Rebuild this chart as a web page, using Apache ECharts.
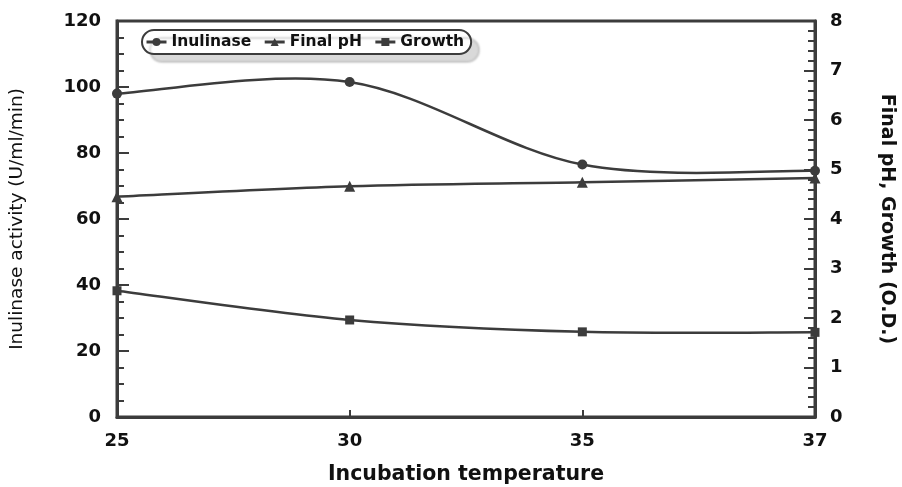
<!DOCTYPE html>
<html>
<head>
<meta charset="utf-8">
<script src="https://cdn.jsdelivr.net/npm/echarts@6/dist/echarts.min.js"></script>
<style>
  html, body { margin: 0; padding: 0; background: #fff; }
  #chart { width: 902px; height: 487px; }
</style>
</head>
<body>
<div id="chart"></div>
<script>
// Incubation temperatures (°C) along the x axis
const temperatures = ['25', '30', '35', '37'];
// Inulinase activity, U/ml/min (left axis)
const inulinase = [98, 101.5, 76.5, 74.6];
// Final pH of the medium (right axis)
const finalPH = [4.45, 4.66, 4.74, 4.83];
// Growth, O.D. (right axis)
const growth = [2.55, 1.96, 1.72, 1.71];

const ink = '#3c3c3c';
const font = 'DejaVu Sans';

// Smoothed curve through the measured points (cardinal spline, tension 1/6),
// projected with the chart's own axes via api.coord.
function splineRenderer(values) {
  return function (params, api) {
    if (params.dataIndex !== 0) return null;
    const pts = values.map((v, i) => api.coord([i, v]));
    const n = pts.length;
    let d = 'M' + pts[0][0] + ' ' + pts[0][1];
    for (let i = 0; i < n - 1; i++) {
      const p0 = pts[Math.max(i - 1, 0)];
      const p1 = pts[i];
      const p2 = pts[i + 1];
      const p3 = pts[Math.min(i + 2, n - 1)];
      const c1x = p1[0] + (p2[0] - p0[0]) / 6, c1y = p1[1] + (p2[1] - p0[1]) / 6;
      const c2x = p2[0] - (p3[0] - p1[0]) / 6, c2y = p2[1] - (p3[1] - p1[1]) / 6;
      d += ' C' + c1x + ' ' + c1y + ' ' + c2x + ' ' + c2y + ' ' + p2[0] + ' ' + p2[1];
    }
    return {
      type: 'path',
      shape: { pathData: d },
      style: { fill: null, stroke: ink, lineWidth: 2.5 }
    };
  };
}

function curveSeries(name, values, axis) {
  return {
    name: name, type: 'custom', yAxisIndex: axis, silent: true, z: 1,
    data: values.map((v, i) => [i, v]),
    renderItem: splineRenderer(values)
  };
}

function markerSeries(name, values, axis, symbol, size) {
  return {
    name: name, type: 'line', yAxisIndex: axis, data: values, z: 3,
    symbol: symbol, symbolSize: size,
    itemStyle: { color: ink },
    lineStyle: { color: ink, width: 0, opacity: 0 }
  };
}

const chart = echarts.init(document.getElementById('chart'), null, { renderer: 'canvas' });

const yCommon = {
  type: 'value',
  splitLine: { show: false },
  axisLine: { show: true, lineStyle: { color: ink, width: 3 } },
  axisLabel: { color: '#111', fontFamily: font, fontWeight: 'bold', fontSize: 18 },
  minorSplitLine: { show: false }
};

chart.setOption({
  animation: false,
  backgroundColor: '#fff',
  textStyle: { fontFamily: font },
  grid: {
    left: 117, right: 87, top: 21, bottom: 70,
    outerBoundsMode: 'none',
    containLabel: false,
    show: true, borderColor: ink, borderWidth: 3, backgroundColor: 'transparent'
  },
  legend: {
    left: 142, top: 30,
    padding: [4, 7, 4, 3],
    itemGap: 12,
    itemWidth: 20, itemHeight: 10,
    backgroundColor: '#fff',
    borderColor: ink, borderWidth: 2, borderRadius: 12,
    shadowColor: 'rgba(0,0,0,0.15)', shadowBlur: 2, shadowOffsetX: 8, shadowOffsetY: 8,
    lineStyle: { color: ink, width: 3, opacity: 1 },
    textStyle: { color: '#111', fontFamily: font, fontWeight: 'bold', fontSize: 15.5 },
    data: ['Inulinase', 'Final pH', 'Growth']
  },
  xAxis: {
    type: 'category',
    data: temperatures,
    boundaryGap: false,
    name: 'Incubation temperature',
    nameLocation: 'middle',
    nameGap: 47,
    nameTextStyle: { color: '#111', fontFamily: font, fontWeight: 'bold', fontSize: 20.5 },
    axisLine: { show: true, lineStyle: { color: ink, width: 3 } },
    axisTick: { show: true, inside: true, length: 7, lineStyle: { color: ink, width: 2 } },
    axisLabel: { color: '#111', fontFamily: font, fontWeight: 'bold', fontSize: 18, margin: 15 },
    splitLine: { show: false }
  },
  yAxis: [
    Object.assign({}, yCommon, {
      position: 'left',
      min: 0, max: 120, interval: 20,
      name: 'Inulinase activity (U/ml/min)',
      nameLocation: 'middle',
      nameRotate: 90,
      nameGap: 90,
      nameTextStyle: { color: '#111', fontFamily: font, fontWeight: 'normal', fontSize: 18.5 },
      axisTick: { show: true, inside: true, length: 12, lineStyle: { color: ink, width: 2 } },
      minorTick: { show: true, splitNumber: 4, length: 7, lineStyle: { color: ink, width: 2 } },
      axisLabel: Object.assign({}, yCommon.axisLabel, { margin: 16 })
    }),
    Object.assign({}, yCommon, {
      position: 'right',
      min: 0, max: 8, interval: 1,
      name: 'Final pH, Growth (O.D.)',
      nameLocation: 'middle',
      nameRotate: -90,
      nameGap: 62,
      nameTextStyle: { color: '#111', fontFamily: font, fontWeight: 'bold', fontSize: 19 },
      axisTick: { show: true, inside: true, length: 11, lineStyle: { color: ink, width: 2 } },
      minorTick: { show: true, splitNumber: 5, length: 7, lineStyle: { color: ink, width: 2 } },
      axisLabel: Object.assign({}, yCommon.axisLabel, { margin: 15 })
    })
  ],
  series: [
    markerSeries('Inulinase', inulinase, 0, 'circle', 10),
    markerSeries('Final pH', finalPH, 1, 'triangle', 11),
    markerSeries('Growth', growth, 1, 'rect', 9),
    curveSeries('Inulinase curve', inulinase, 0),
    curveSeries('Final pH curve', finalPH, 1),
    curveSeries('Growth curve', growth, 1)
  ]
});
</script>
</body>
</html>
